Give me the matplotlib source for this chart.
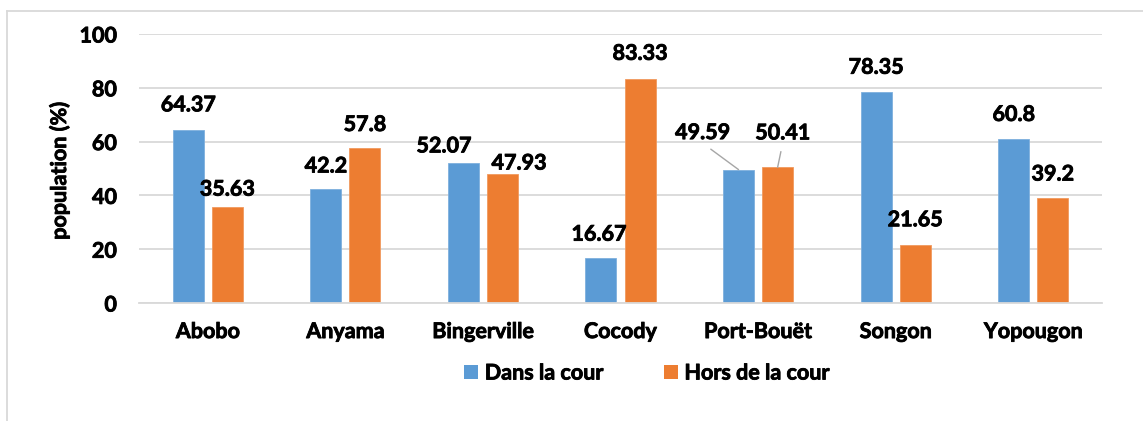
import matplotlib
matplotlib.use("Agg")
import matplotlib.pyplot as plt
import numpy as np
import os
from matplotlib.lines import Line2D
from matplotlib.patches import Patch
from matplotlib import font_manager as fm
import matplotlib.patheffects as pe

categories = ["Abobo", "Anyama", "Bingerville", "Cocody", "Port-Bouët", "Songon", "Yopougon"]
dans_la_cour = [64.37, 42.2, 52.07, 16.67, 49.59, 78.35, 60.8]
hors_de_la_cour = [35.63, 57.8, 47.93, 83.33, 50.41, 21.65, 39.2]
dans_labels = ["64.37", "42.2", "52.07", "16.67", "49.59", "78.35", "60.8"]
hors_labels = ["35.63", "57.8", "47.93", "83.33", "50.41", "21.65", "39.2"]
series_names = ["Dans la cour", "Hors de la cour"]
yticks = [0, 20, 40, 60, 80, 100]

# label layout (pixel offsets of label centre from bar top), and leader flags
dans_off = [(0, 25), (0, 23.5), (-19.5, 17), (-2, 24), (-36, 37), (0, 25), (0, 25)]
hors_off = [(0, 18), (0, 23), (16.5, 11), (0, 25.5), (5, 34.5), (0, 25), (0, 23.5)]
dans_leader = [False, False, False, False, True, False, False]
hors_leader = [False, False, False, False, True, False, False]

BLUE = "#5B9BD5"
ORANGE = "#ED7D31"
GRID = "#D9D9D9"
FS = 15.5
THICK = [pe.withStroke(linewidth=0.6, foreground='black')]


def bold_path():
    wanted = ['lato-bold.', 'opensans-bold.', 'notosans-bold.', 'roboto-bold.', 'liberationsans-bold.']
    files = [f.fname for f in fm.fontManager.ttflist]
    for w in wanted:
        for p in files:
            if os.path.basename(p).lower().startswith(w):
                return p
    return None


bp = bold_path()


def fp(size=FS):
    if bp:
        return fm.FontProperties(fname=bp, size=size)
    return fm.FontProperties(family='DejaVu Sans', weight='bold', size=size)


W, H = 1143, 421
fig = plt.figure(figsize=(W / 100, H / 100), dpi=100)
ax = fig.add_axes([139 / W, (H - 303) / H, (1102 - 139) / W, (303 - 34) / H])

x = np.arange(len(categories))
bw = 0.225
off = 0.142
ax.bar(x - off, dans_la_cour, bw, color=BLUE, edgecolor="#7EB0DE", linewidth=0.6, zorder=2)
ax.bar(x + off, hors_de_la_cour, bw, color=ORANGE, edgecolor="#F19A5E", linewidth=0.6, zorder=2)

ax.set_ylim(0, 100)
ax.set_xlim(-0.5, len(categories) - 0.5)
ax.set_yticks(yticks)
ax.set_yticklabels([str(v) for v in yticks], fontproperties=fp())
ax.set_xticks(x)
ax.set_xticklabels(categories, fontproperties=fp())
for t in ax.get_xticklabels() + ax.get_yticklabels():
    t.set_path_effects(THICK)
ax.tick_params(axis='both', length=0)
ax.tick_params(axis='y', pad=16)
ax.tick_params(axis='x', pad=13)
ax.grid(axis='y', color=GRID, linewidth=1.3, zorder=0)
ax.set_axisbelow(True)
for s in ["left", "right", "top"]:
    ax.spines[s].set_visible(False)
ax.spines["bottom"].set_color(GRID)
ax.spines["bottom"].set_linewidth(1.3)

ax.set_ylabel("population (%)", fontproperties=fp())
ax.yaxis.label.set_va('center')
ax.yaxis.label.set_path_effects(THICK)
ax.yaxis.set_label_coords((59 - 139) / (1102 - 139), (303 - 171) / (303 - 34))


def label(xpos, val, text, o, leader):
    kw = {}
    if leader:
        kw["arrowprops"] = dict(arrowstyle='-', color="#A6A6A6", lw=1.0,
                                shrinkA=4, shrinkB=0, relpos=(0.5, 0.0))
    a = ax.annotate(text, xy=(xpos, val), xytext=o, textcoords='offset pixels',
                    ha='center', va='center', fontproperties=fp(),
                    color='black', zorder=5, **kw)
    a.set_path_effects(THICK)
    if leader and a.arrow_patch is not None:
        a.arrow_patch.set_path_effects([])


for i in range(len(categories)):
    label(x[i] - off, dans_la_cour[i], dans_labels[i], dans_off[i], dans_leader[i])
    label(x[i] + off, hors_de_la_cour[i], hors_labels[i], hors_off[i], hors_leader[i])

handles = [Patch(facecolor=BLUE), Patch(facecolor=ORANGE)]
leg = fig.legend(handles, series_names, loc='center', bbox_to_anchor=(647 / W, (H - 373) / H),
                 ncol=2, frameon=False, handlelength=0.65, handleheight=0.65,
                 handletextpad=0.3, columnspacing=2.8, prop=fp())
for t in leg.get_texts():
    t.set_path_effects(THICK)

# chart border (Excel chart area)
fig.add_artist(Line2D([7 / W, 7 / W], [0, (H - 11) / H], color=GRID, lw=1.3, transform=fig.transFigure))
fig.add_artist(Line2D([7 / W, 1], [(H - 11) / H, (H - 11) / H], color=GRID, lw=1.3, transform=fig.transFigure))

fig.savefig("out.png", dpi=100)
